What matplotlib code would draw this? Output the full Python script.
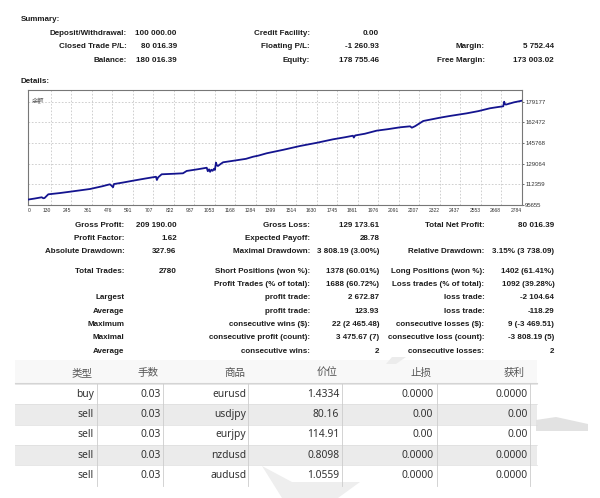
import matplotlib
matplotlib.use("Agg")
import matplotlib.pyplot as plt
from matplotlib.patches import Rectangle, Polygon

plt.rcParams['font.family'] = ['Liberation Sans', 'Noto Sans CJK SC', 'DejaVu Sans']

# summary block
sum_labels_1 = ['Deposit/Withdrawal:', 'Closed Trade P/L:', 'Balance:']
sum_values_1 = ['100 000.00', '80 016.39', '180 016.39']
sum_labels_2 = ['Credit Facility:', 'Floating P/L:', 'Equity:']
sum_values_2 = ['0.00', '-1 260.93', '178 755.46']
sum_labels_3 = ['', 'Margin:', 'Free Margin:']
sum_values_3 = ['', '5 752.44', '173 003.02']

# balance curve (trade number, balance)
balance_t = [0, 40, 79, 88, 95, 116, 180, 238, 300, 351, 420, 463, 470, 481, 486,
             540, 593, 660, 723, 728, 735, 755, 820, 875, 896, 960, 1009, 1015,
             1022, 1028, 1035, 1042, 1050, 1055, 1061, 1066, 1072, 1085, 1101,
             1180, 1230, 1270, 1300, 1347, 1440, 1535, 1630, 1721, 1790, 1833,
             1838, 1845, 1900, 1967, 2030, 2098, 2155, 2165, 2183, 2229, 2324,
             2380, 2474, 2540, 2605, 2650, 2680, 2685, 2690, 2696, 2740, 2784]
balance_v = [100000, 100900, 101900, 101100, 101300, 104300, 105300, 106400, 107600,
             108600, 110800, 112400, 111600, 110000, 112600, 113900, 115300, 117000,
             118500, 115900, 118000, 120500, 120900, 121300, 123200, 124600, 125800,
             123000, 124500, 122500, 124200, 123300, 125000, 124000, 129900, 127800,
             127200, 128600, 130200, 131900, 133000, 134700, 135600, 137500, 140300,
             143400, 146000, 148800, 150500, 151700, 150200, 151900, 153300, 155800,
             157000, 158500, 159300, 158200, 159400, 163600, 166300, 167700, 169800,
             171600, 173900, 174900, 175500, 179200, 177100, 176900, 178700, 180000]
x_ticks = [0, 130, 245, 361, 476, 591, 707, 822, 937, 1053, 1168, 1284, 1399, 1514,
           1630, 1745, 1861, 1976, 2091, 2207, 2322, 2437, 2553, 2668, 2784]
y_ticks = [95655, 112359, 129064, 145768, 162472, 179177]

# details block
det_labels_1 = ['Gross Profit:', 'Profit Factor:', 'Absolute Drawdown:', 'Total Trades:', '',
                'Largest', 'Average', 'Maximum', 'Maximal', 'Average']
det_values_1 = ['209 190.00', '1.62', '327.96', '2780', '', '', '', '', '', '']
det_labels_2 = ['Gross Loss:', 'Expected Payoff:', 'Maximal Drawdown:', 'Short Positions (won %):',
                'Profit Trades (% of total):', 'profit trade:', 'profit trade:',
                'consecutive wins ($):', 'consecutive profit (count):', 'consecutive wins:']
det_values_2 = ['129 173.61', '28.78', '3 808.19 (3.00%)', '1378 (60.01%)', '1688 (60.72%)',
                '2 672.87', '123.93', '22 (2 465.48)', '3 475.67 (7)', '2']
det_labels_3 = ['Total Net Profit:', '', 'Relative Drawdown:', 'Long Positions (won %):',
                'Loss trades (% of total):', 'loss trade:', 'loss trade:',
                'consecutive losses ($):', 'consecutive loss (count):', 'consecutive losses:']
det_values_3 = ['80 016.39', '', '3.15% (3 738.09)', '1402 (61.41%)', '1092 (39.28%)',
                '-2 104.64', '-118.29', '9 (-3 469.51)', '-3 808.19 (5)', '2']

# orders table
tbl_header = ['类型', '手数', '商品', '价位', '止损', '获利']
tbl_type = ['buy', 'sell', 'sell', 'sell', 'sell']
tbl_lots = ['0.03', '0.03', '0.03', '0.03', '0.03']
tbl_symbol = ['eurusd', 'usdjpy', 'eurjpy', 'nzdusd', 'audusd']
tbl_price = ['1.4334', '80.16', '114.91', '0.8098', '1.0559']
tbl_sl = ['0.0000', '0.00', '0.00', '0.0000', '0.0000']
tbl_tp = ['0.0000', '0.00', '0.00', '0.0000', '0.0000']

fig = plt.figure(figsize=(6, 4.98), dpi=100)
bg = fig.add_axes([0, 0, 1, 1])
bg.set_xlim(0, 600)
bg.set_ylim(498, 0)
bg.axis('off')

bold = dict(fontsize=5.8, fontweight='bold', color='#1c1c1c', va='center')

bg.text(20.5, 19.3, 'Summary:', ha='left', **bold)
bg.text(20.5, 81, 'Details:', ha='left', **bold)
sum_rows = [33.3, 46.7, 60.0]
for i, y in enumerate(sum_rows):
    bg.text(126.7, y, sum_labels_1[i], ha='right', **bold)
    bg.text(176.7, y, sum_values_1[i], ha='right', **bold)
    bg.text(310, y, sum_labels_2[i], ha='right', **bold)
    bg.text(379, y, sum_values_2[i], ha='right', **bold)
    bg.text(485, y, sum_labels_3[i], ha='right', **bold)
    bg.text(554, y, sum_values_3[i], ha='right', **bold)

det_rows = [225, 238.3, 251.7, 271, 284.3, 297.7, 311, 324.3, 337.7, 351]
for i, y in enumerate(det_rows):
    bg.text(124.3, y, det_labels_1[i], ha='right', **bold)
    bg.text(176.7, y, det_values_1[i], ha='right', **bold)
    bg.text(310, y, det_labels_2[i], ha='right', **bold)
    bg.text(379.3, y, det_values_2[i], ha='right', **bold)
    bg.text(484.3, y, det_labels_3[i], ha='right', **bold)
    bg.text(554.3, y, det_values_3[i], ha='right', **bold)

# table
tx0, tx1 = 15, 537
bg.add_patch(Rectangle((tx0, 360), tx1 - tx0, 23, color='#f8f8f8', lw=0, zorder=1))
bg.plot([tx0, tx1], [383.3, 383.3], color='#d4d4d4', lw=0.8, zorder=2)
row_top = 384.0
row_h = 20.3
col_sep = [96.7, 163.3, 248.3, 341.7, 436.7, 530]
col_txt = [94, 161.3, 246.3, 339.3, 433.3, 527.7]
col_head = [92.7, 158.3, 245, 337.3, 431.7, 525]
for j, h in enumerate(tbl_header):
    bg.text(col_head[j], 373, h, ha='right', va='center', fontsize=7.6,
            color='#555555', family=['Noto Sans CJK SC', 'DejaVu Sans'], zorder=4)
columns = [tbl_type, tbl_lots, tbl_symbol, tbl_price, tbl_sl, tbl_tp]
for i in range(len(tbl_type)):
    y0 = row_top + i * row_h
    if i % 2 == 1:
        bg.add_patch(Rectangle((tx0, y0), tx1 - tx0, row_h, color='#ebebeb', lw=0, zorder=1))
    bg.plot([tx0, tx1], [y0, y0], color='#dddddd', lw=0.5, zorder=2)
    for j, col in enumerate(columns):
        bg.text(col_txt[j], y0 + row_h / 2, col[i], ha='right', va='center', fontsize=7.4,
                color='#333333', family=['Noto Sans', 'DejaVu Sans'], zorder=4)
for x in col_sep:
    bg.plot([x, x], [row_top, row_top + row_h * len(tbl_type)], color='#cccccc',
            lw=0.6, zorder=2)

# faint watermark pieces
bg.add_patch(Polygon([(536, 420), (556, 417), (588, 424), (588, 431), (536, 431)],
                     closed=True, color='#e2e2e2', lw=0, zorder=1.5))
bg.add_patch(Polygon([(262, 466), (292, 482), (360, 482), (338, 498), (282, 498)],
                     closed=True, color='#eeeeee', lw=0, zorder=1.5))
bg.add_patch(Polygon([(392, 357), (406, 357), (396, 364), (386, 364)],
                     closed=True, color='#ececec', lw=0, zorder=1.5))

# balance chart
ax = fig.add_axes([27.7 / 600, (498 - 205) / 498, 494 / 600, 115 / 498])
ax.plot(balance_t, balance_v, color='#14148f', lw=1.3, zorder=3)
ax.set_xlim(0, 2784)
ax.set_ylim(95655, 188680)
ax.set_yticks(y_ticks)
ax.set_yticklabels([str(v) for v in y_ticks])
ax.yaxis.tick_right()
ax.tick_params(axis='y', length=1.5, width=0.5, pad=1, labelsize=4.3, colors='#333333')
ax.set_xticks(x_ticks)
ax.set_xticklabels([str(v) for v in x_ticks])
ax.tick_params(axis='x', length=0, pad=2, labelsize=3.6, colors='#333333')
for k, lbl in enumerate(ax.get_xticklabels()):
    lbl.set_ha('left' if k == 0 else 'right')
ax.grid(True, color='#c8c8c8', ls=(0, (2, 2)), lw=0.6)
for s in ax.spines.values():
    s.set_color('#777777')
    s.set_linewidth(0.8)
ax.text(0.008, 0.94, '余额', transform=ax.transAxes, fontsize=4.5, color='#555555',
        va='top', ha='left', family=['Noto Sans CJK SC', 'DejaVu Sans'])

fig.savefig('out.png', dpi=100)
